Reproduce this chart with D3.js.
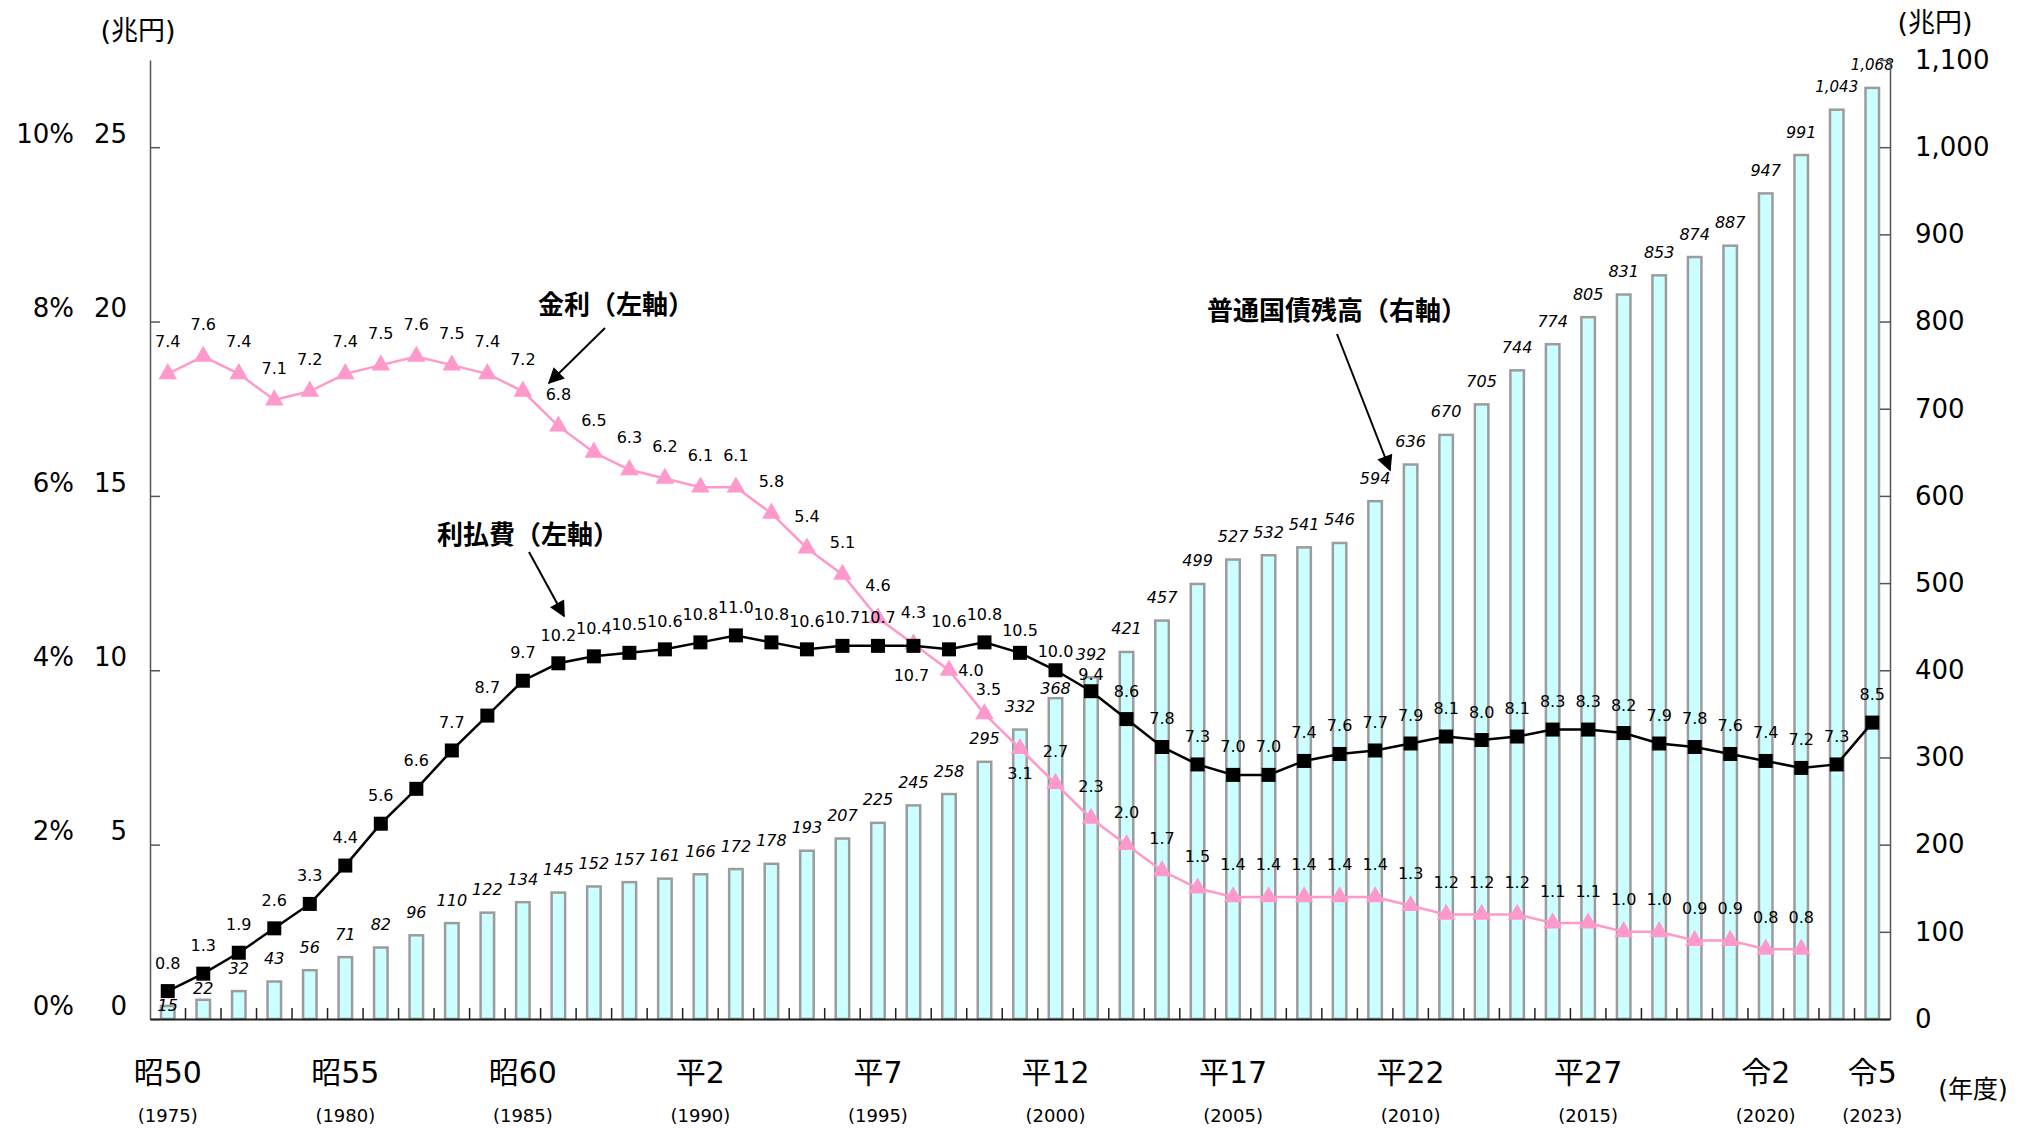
<!DOCTYPE html>
<html>
<head>
<meta charset="utf-8">
<script src="https://cdn.jsdelivr.net/npm/d3@7"></script>
<style>
  body { margin: 0; background: #fff; }
  svg { display: block; }
</style>
</head>
<body>
<svg id="chart" width="2031" height="1128"></svg>
<script>
// Fiscal years (年度)
const fiscalYears = [1975,1976,1977,1978,1979,1980,1981,1982,1983,1984,1985,1986,1987,1988,1989,
  1990,1991,1992,1993,1994,1995,1996,1997,1998,1999,2000,2001,2002,2003,2004,2005,2006,2007,2008,
  2009,2010,2011,2012,2013,2014,2015,2016,2017,2018,2019,2020,2021,2022,2023];

// 普通国債残高 (兆円, right axis)
const debtOutstanding = [15,22,32,43,56,71,82,96,110,122,134,145,152,157,161,166,172,178,193,207,
  225,245,258,295,332,368,392,421,457,499,527,532,541,546,594,636,670,705,744,774,805,831,853,874,
  887,947,991,1043,1068];

// 利払費 (兆円, left axis)
const interestPayments = [0.8,1.3,1.9,2.6,3.3,4.4,5.6,6.6,7.7,8.7,9.7,10.2,10.4,10.5,10.6,10.8,11.0,
  10.8,10.6,10.7,10.7,10.7,10.6,10.8,10.5,10.0,9.4,8.6,7.8,7.3,7.0,7.0,7.4,7.6,7.7,7.9,8.1,8.0,8.1,
  8.3,8.3,8.2,7.9,7.8,7.6,7.4,7.2,7.3,8.5];

// 金利 (%, left axis) — 1975 to 2021
const interestRate = [7.4,7.6,7.4,7.1,7.2,7.4,7.5,7.6,7.5,7.4,7.2,6.8,6.5,6.3,6.2,6.1,6.1,5.8,5.4,
  5.1,4.6,4.3,4.0,3.5,3.1,2.7,2.3,2.0,1.7,1.5,1.4,1.4,1.4,1.4,1.4,1.3,1.2,1.2,1.2,1.1,1.1,1.0,1.0,
  0.9,0.9,0.8,0.8];

// Axis tick labels
const eraTickYears = [1975,1980,1985,1990,1995,2000,2005,2010,2015,2020,2023];
const eraTickLabels = ["昭50","昭55","昭60","平2","平7","平12","平17","平22","平27","令2","令5"];
const leftTicks = [0,5,10,15,20,25];
const rateTicks = [0,2,4,6,8,10];
const rightTicks = [0,100,200,300,400,500,600,700,800,900,1000,1100];

const LATIN = "'DejaVu Sans', 'Noto Sans CJK JP', sans-serif";
const CJK = "'Noto Sans CJK JP', sans-serif";

const svg = d3.select("#chart");
const plot = { left: 150, right: 1890, top: 60, bottom: 1019 };

const x = d3.scaleBand().domain(fiscalYears).range([plot.left, plot.right]).padding(0);
const cx = d => x(d) + x.bandwidth() / 2;
const yLeft = d3.scaleLinear().domain([0, 27.5]).range([plot.bottom, plot.top]);
const yRate = d3.scaleLinear().domain([0, 11]).range([plot.bottom, plot.top]);
const yRight = d3.scaleLinear().domain([0, 1100]).range([plot.bottom, plot.top]);

// arrow head for callouts
svg.append("defs").append("marker")
  .attr("id", "arrowHead")
  .attr("viewBox", "0 0 10 10")
  .attr("refX", 9).attr("refY", 5)
  .attr("markerUnits", "userSpaceOnUse")
  .attr("markerWidth", 18).attr("markerHeight", 16)
  .attr("orient", "auto")
  .append("path").attr("d", "M0,0 L10,5 L0,10 Z").attr("fill", "#000");

// ---- bars: outstanding government bonds
const barW = x.bandwidth() * 0.38;
const debtData = fiscalYears.map((yr, i) => ({ yr, v: debtOutstanding[i] }));
svg.append("g").selectAll("rect").data(debtData).join("rect")
  .attr("x", d => cx(d.yr) - barW / 2)
  .attr("y", d => yRight(d.v))
  .attr("width", barW)
  .attr("height", d => yRight(0) - yRight(d.v))
  .attr("fill", "#CCFFFF")
  .attr("stroke", "#9C9C9C")
  .attr("stroke-width", 2.5);

// bar value labels (some lifted less where the lines pass through)
const barLabelLift = { 1975: 0, 1976: 11, 2000: 10 };
svg.append("g").selectAll("text").data(debtData).join("text")
  .attr("x", d => cx(d.yr))
  .attr("y", d => yRight(d.v) - (barLabelLift[d.yr] ?? 23))
  .attr("text-anchor", "middle")
  .attr("dominant-baseline", "central")
  .attr("font-family", LATIN)
  .attr("font-style", "italic")
  .attr("font-size", d => d.v >= 1000 ? 15 : 16)
  .attr("fill", "#000")
  .text(d => d3.format(",")(d.v));

// ---- axes
const axisStyle = g => {
  g.selectAll("text").attr("font-family", LATIN).attr("font-size", 26).attr("fill", "#000");
  g.selectAll("line").attr("stroke", "#555").attr("stroke-width", 1.5);
  g.select(".domain").attr("stroke", "#555").attr("stroke-width", 1.5);
};

svg.append("g").attr("transform", `translate(${plot.left},0)`)
  .call(d3.axisLeft(yLeft).tickValues(leftTicks).tickSizeInner(-10).tickSizeOuter(0).tickPadding(23))
  .call(axisStyle)
  .call(g => g.selectAll("text").attr("y", -13));

svg.append("g").attr("transform", `translate(${plot.left},0)`)
  .call(d3.axisLeft(yRate).tickValues(rateTicks).tickSize(0).tickPadding(76).tickFormat(d => d + "%"))
  .call(axisStyle)
  .call(g => g.select(".domain").remove())
  .call(g => g.selectAll("text").attr("y", -13));

svg.append("g").attr("transform", `translate(${plot.right},0)`)
  .call(d3.axisRight(yRight).tickValues(rightTicks).tickSizeInner(-10).tickSizeOuter(0)
    .tickPadding(25).tickFormat(d3.format(",")))
  .call(axisStyle);

const xAxis = svg.append("g").attr("transform", `translate(0,${plot.bottom})`)
  .call(d3.axisBottom(x).tickSize(0).tickFormat(""));
xAxis.select(".domain").attr("stroke", "#222").attr("stroke-width", 2);
xAxis.selectAll(".tick").remove();
xAxis.append("g").selectAll("line").data(fiscalYears.slice(1)).join("line")
  .attr("x1", d => x(d)).attr("x2", d => x(d))
  .attr("y1", 0).attr("y2", -11)
  .attr("stroke", "#222").attr("stroke-width", 1.5);

// era / calendar-year labels
const eraG = svg.append("g");
eraG.selectAll("text.era").data(eraTickYears).join("text").attr("class", "era")
  .attr("x", d => cx(d)).attr("y", 1072)
  .attr("text-anchor", "middle").attr("dominant-baseline", "central")
  .attr("font-family", LATIN).attr("font-size", 30).attr("fill", "#000")
  .text((d, i) => eraTickLabels[i]);
eraG.selectAll("text.yr").data(eraTickYears).join("text").attr("class", "yr")
  .attr("x", d => cx(d)).attr("y", 1115)
  .attr("text-anchor", "middle").attr("dominant-baseline", "central")
  .attr("font-family", LATIN).attr("font-size", 18).attr("fill", "#000")
  .text(d => `(${d})`);

// unit labels
svg.append("text").attr("x", 138).attr("y", 30).attr("text-anchor", "middle")
  .attr("dominant-baseline", "central").attr("font-family", LATIN).attr("font-size", 27)
  .text("(兆円)");
svg.append("text").attr("x", 1935).attr("y", 22).attr("text-anchor", "middle")
  .attr("dominant-baseline", "central").attr("font-family", LATIN).attr("font-size", 27)
  .text("(兆円)");
svg.append("text").attr("x", 1973).attr("y", 1089).attr("text-anchor", "middle")
  .attr("dominant-baseline", "central").attr("font-family", LATIN).attr("font-size", 25)
  .text("(年度)");

// ---- interest rate line (pink, triangles)
const rateData = interestRate.map((v, i) => ({ yr: fiscalYears[i], v }));
svg.append("path").datum(rateData)
  .attr("fill", "none").attr("stroke", "#FF99CC").attr("stroke-width", 2.5)
  .attr("d", d3.line().x(d => cx(d.yr)).y(d => yRate(d.v)));
svg.append("g").selectAll("path").data(rateData).join("path")
  .attr("transform", d => `translate(${cx(d.yr)},${yRate(d.v)})`)
  .attr("d", d3.symbol(d3.symbolTriangle, 150))
  .attr("fill", "#FF99CC");

// ---- interest payments line (black, squares)
const payData = interestPayments.map((v, i) => ({ yr: fiscalYears[i], v }));
svg.append("path").datum(payData)
  .attr("fill", "none").attr("stroke", "#000").attr("stroke-width", 2.5)
  .attr("d", d3.line().x(d => cx(d.yr)).y(d => yLeft(d.v)));
svg.append("g").selectAll("rect").data(payData).join("rect")
  .attr("x", d => cx(d.yr) - 7).attr("y", d => yLeft(d.v) - 7)
  .attr("width", 14).attr("height", 14)
  .attr("fill", "#000");

// line value labels
const rateLabelShift = { 1997: [22, 0], 1998: [4, -24], 1999: [0, 25] };
svg.append("g").selectAll("text").data(rateData).join("text")
  .attr("x", d => cx(d.yr) + (rateLabelShift[d.yr] ? rateLabelShift[d.yr][0] : 0))
  .attr("y", d => yRate(d.v) + (rateLabelShift[d.yr] ? rateLabelShift[d.yr][1] : -32))
  .attr("text-anchor", "middle").attr("dominant-baseline", "central")
  .attr("font-family", LATIN).attr("font-size", 16).attr("fill", "#000")
  .text(d => d3.format(".1f")(d.v));

const payLabelShift = { 1996: 30, 1999: -22, 2000: -19, 2001: -17 };
svg.append("g").selectAll("text").data(payData).join("text")
  .attr("x", d => cx(d.yr) - (d.yr === 1996 ? 2 : 0))
  .attr("y", d => yLeft(d.v) + (payLabelShift[d.yr] ?? -28))
  .attr("text-anchor", "middle").attr("dominant-baseline", "central")
  .attr("font-family", LATIN).attr("font-size", 16).attr("fill", "#000")
  .text(d => d3.format(".1f")(d.v));

// ---- callouts
const callouts = [
  { text: "金利（左軸）", tx: 616, ty: 302, from: [605, 328], to: [549, 383] },
  { text: "利払費（左軸）", tx: 528, ty: 532, from: [529, 552], to: [564, 616] },
  { text: "普通国債残高（右軸）", tx: 1337, ty: 308, from: [1337, 334], to: [1390, 470] }
];
const cg = svg.append("g");
cg.selectAll("text").data(callouts).join("text")
  .attr("x", d => d.tx).attr("y", d => d.ty)
  .attr("text-anchor", "middle").attr("dominant-baseline", "central")
  .attr("font-family", CJK).attr("font-weight", 700).attr("font-size", 26).attr("fill", "#000")
  .text(d => d.text);
cg.selectAll("line").data(callouts).join("line")
  .attr("x1", d => d.from[0]).attr("y1", d => d.from[1])
  .attr("x2", d => d.to[0]).attr("y2", d => d.to[1])
  .attr("stroke", "#000").attr("stroke-width", 2)
  .attr("marker-end", "url(#arrowHead)");
</script>
</body>
</html>
